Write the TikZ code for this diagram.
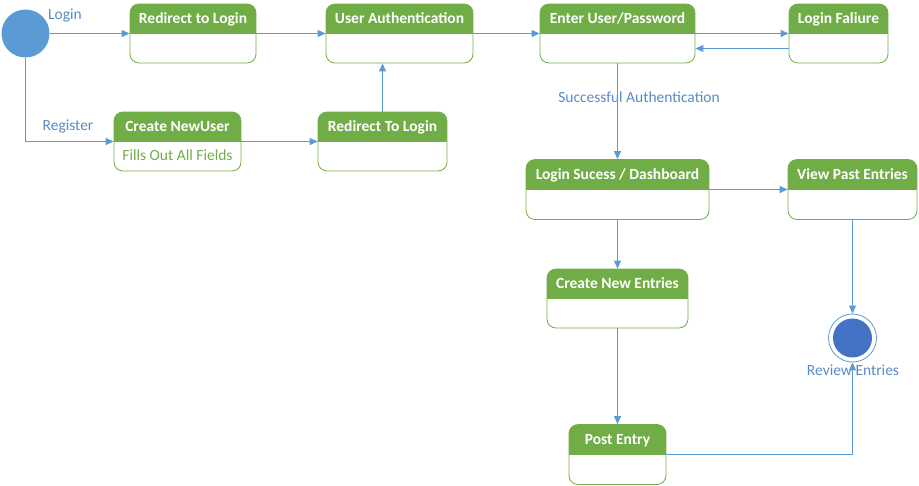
\documentclass[tikz,border=0pt]{standalone}
\usepackage{fontspec}
\setmainfont{Carlito}
\usetikzlibrary{arrows.meta,calc}
\definecolor{hdr}{HTML}{70AD47}
\definecolor{lnk}{HTML}{5B9BD5}
\definecolor{lbl}{HTML}{5A8AC6}
\definecolor{fin}{HTML}{4472C4}
\tikzset{
  statebox/.style={draw=hdr, line width=0.8pt, rounded corners=9pt, inner sep=0pt,
    minimum height=59pt,
    path picture={\fill[hdr, sharp corners] (path picture bounding box.north west) rectangle ([yshift=-30pt]path picture bounding box.north east);}},
  title/.style={anchor=base, text=white, inner sep=0pt, font=\bfseries\fontsize{15.5}{18}\selectfont},
  lab/.style={anchor=center, text=lbl, inner sep=0pt, font=\fontsize{15.5}{18}\selectfont},
  conn/.style={draw=lnk, line width=1pt, -{Triangle[length=8pt,width=7pt]}},
}
\begin{document}
\begin{tikzpicture}[x=1pt,y=-1pt]
\useasboundingbox (0,0) rectangle (919,485);
% initial and final states
\node[circle, fill=lnk, minimum size=48pt, inner sep=0pt] (init) at (25.5,33.5) {};
\node[circle, draw=lnk, line width=0.8pt, fill=white, minimum size=48pt, inner sep=0pt] (fin) at (852.5,338) {};
\node[circle, fill=fin, minimum size=39pt, inner sep=0pt] (finin) at (fin.center) {};
% state boxes
\node[statebox, minimum width=126pt] (rl) at (193,33.5) {};
\node[statebox, minimum width=147pt] (ua) at (399.5,33.5) {};
\node[statebox, minimum width=155pt] (eu) at (617.5,33.5) {};
\node[statebox, minimum width=99pt]  (lf) at (838.5,33.5) {};
\node[statebox, minimum width=127pt] (cn) at (177.5,141.5) {};
\node[statebox, minimum width=129pt] (rt) at (382.5,141.5) {};
\node[statebox, minimum width=183pt, minimum height=60pt] (ls) at (617.5,189.5) {};
\node[statebox, minimum width=129pt, minimum height=60pt] (vp) at (852.5,189.5) {};
\node[statebox, minimum width=141pt] (ce) at (617.5,298.5) {};
\node[statebox, minimum width=97pt, minimum height=60pt] (pe) at (617.5,454.5) {};
% titles
\node[title] (rlt) at ($(rl.north)+(0,20)$) {Redirect to Login};
\node[title] (uat) at ($(ua.north)+(0,20)$) {User Authentication};
\node[title] (eut) at ($(eu.north)+(0,20)$) {Enter User/Password};
\node[title] (lft) at ($(lf.north)+(0,20)$) {Login Faliure};
\node[title] (cnt) at ($(cn.north)+(0,20)$) {Create NewUser};
\node[title] (rtt) at ($(rt.north)+(0,20)$) {Redirect To Login};
\node[title] (lst) at ($(ls.north)+(0,20)$) {Login Sucess / Dashboard};
\node[title] (vpt) at ($(vp.north)+(0,20)$) {View Past Entries};
\node[title] (cet) at ($(ce.north)+(0,20)$) {Create New Entries};
\node[title] (pet) at ($(pe.north)+(0,20)$) {Post Entry};
\node[anchor=base, text=hdr, inner sep=0pt, font=\fontsize{15.5}{18}\selectfont] (cnb) at ($(cn.north)+(0,49)$) {Fills Out All Fields};
% labels
\node[lab] (llogin) at (65,15) {Login};
\node[lab] (lreg) at (68,126) {Register};
\node[lab] (lsucc) at (639,97) {Successful Authentication};
\node[lab] (lrev) at (853,370) {Review Entries};
% connectors
\draw[conn] (init.east) -- (init.east -| rl.west);
\draw[conn] (init.south) |- (cn.west);
\draw[conn] (rl.east) -- (ua.west);
\draw[conn] (ua.east) -- (eu.west);
\draw[conn] (eu.east) -- (lf.west);
\draw[conn] ([yshift=-15pt]lf.west) -- ([yshift=-15pt]eu.east);
\draw[conn] (cn.east) -- (rt.west);
\draw[conn] (rt.north) -- (rt.north |- ua.south);
\draw[conn] (eu.south) -- (ls.north);
\draw[conn] (ls.east) -- (vp.west);
\draw[conn] (ls.south) -- (ce.north);
\draw[conn] (ce.south) -- (pe.north);
\draw[conn] (vp.south -| fin.north) -- (fin.north);
\draw[conn] (pe.east) -| (fin.south);
\end{tikzpicture}
\end{document}
